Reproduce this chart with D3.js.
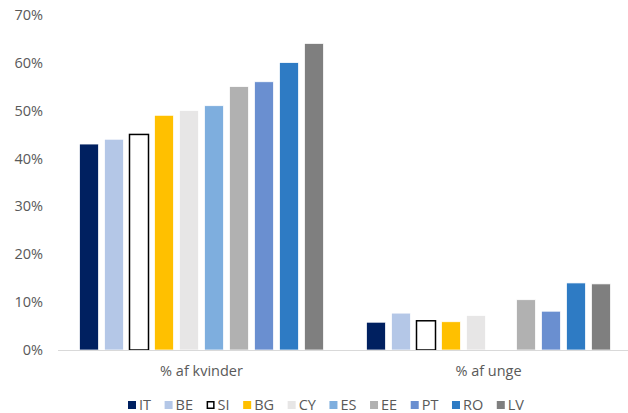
<!DOCTYPE html>
<html><head><meta charset="utf-8">
<script src="https://cdn.jsdelivr.net/npm/d3@7"></script>
<style>body{margin:0;background:#fff}text{font-family:"Open Sans",sans-serif}</style>
</head><body><svg id="c" width="628" height="413"></svg>
<script>
const groups = ["% af kvinder", "% af unge"];
const countries = ["IT","BE","SI","BG","CY","ES","EE","PT","RO","LV"];
const kvinder = [43, 44, 45, 49, 50, 51, 55, 56, 60, 64];
const unge = [5.8, 7.7, 6.1, 5.9, 7.2, null, 10.5, 8.1, 14.0, 13.8];
const colors = ["#002060","#B4C7E7","#FFFFFF","#FFC000","#E7E6E6","#7EAEDE","#B1B1B1","#6A8FD0","#2E7BC4","#7F7F7F"];
const yTicks = [0,10,20,30,40,50,60,70];
const FS = 14.5;

const svg = d3.select("#c");
const series = [kvinder, unge];
const x0 = d3.scaleBand().domain(groups).range([58, 632]);
const x1 = d3.scaleBand().domain(countries).range([0, x0.bandwidth()]).paddingInner(0.24).paddingOuter(0.86);
const y = d3.scaleLinear().domain([0, 70]).range([350, 14.7]);

const yAxis = svg.append("g").attr("transform","translate(43,0)")
  .call(d3.axisLeft(y).tickValues(yTicks).tickFormat(d => d + "%").tickSize(0).tickPadding(0));
yAxis.select(".domain").remove();
yAxis.selectAll("text").attr("fill","#595959").attr("font-size",FS).attr("font-family","Open Sans, sans-serif");

groups.forEach((g, gi) => {
  const data = countries.map((c, i) => ({c, i, v: series[gi][i]})).filter(d => d.v != null);
  svg.append("g").selectAll("rect").data(data).join("rect")
    .attr("x", d => x0(g) + x1(d.c))
    .attr("width", x1.bandwidth())
    .attr("y", d => y(d.v))
    .attr("height", d => y(0) - y(d.v))
    .attr("fill", d => colors[d.i])
    .attr("stroke", d => d.c === "SI" ? "#000" : "#fff")
    .attr("stroke-width", d => d.c === "SI" ? 1.5 : 0.75);
});

svg.append("line").attr("x1",58).attr("x2",628).attr("y1",y(0)+0.5).attr("y2",y(0)+0.5)
  .attr("stroke","#D9D9D9").attr("stroke-width",1);

const xAxis = svg.append("g").attr("transform","translate(0,350)")
  .call(d3.axisBottom(x0).tickSize(0).tickPadding(16));
xAxis.select(".domain").remove();
xAxis.selectAll("text").attr("fill","#595959").attr("font-size",FS).attr("font-family","Open Sans, sans-serif");

// legend
const leg = svg.append("g").attr("transform","translate(128,405)");
const items = countries.map((c, i) => {
  const it = leg.append("g");
  if (c === "SI") {
    it.append("rect").attr("x",0.75).attr("y",-3.25).attr("width",6.5).attr("height",6.5)
      .attr("fill","#fff").attr("stroke","#000").attr("stroke-width",1.5);
  } else {
    it.append("rect").attr("x",0).attr("y",-4).attr("width",8).attr("height",8).attr("fill",colors[i]);
  }
  const t = it.append("text").attr("x",11).attr("y",0).attr("dy","0.35em")
    .attr("fill","#595959").attr("font-size",FS).text(c);
  return {it, w: 11 + t.node().getComputedTextLength()};
});
const sumW = d3.sum(items, d => d.w);
const gap = (396 - sumW) / (items.length - 1);
let cx = 0;
items.forEach(d => { d.it.attr("transform", `translate(${cx},0)`); cx += d.w + gap; });
</script></body></html>
